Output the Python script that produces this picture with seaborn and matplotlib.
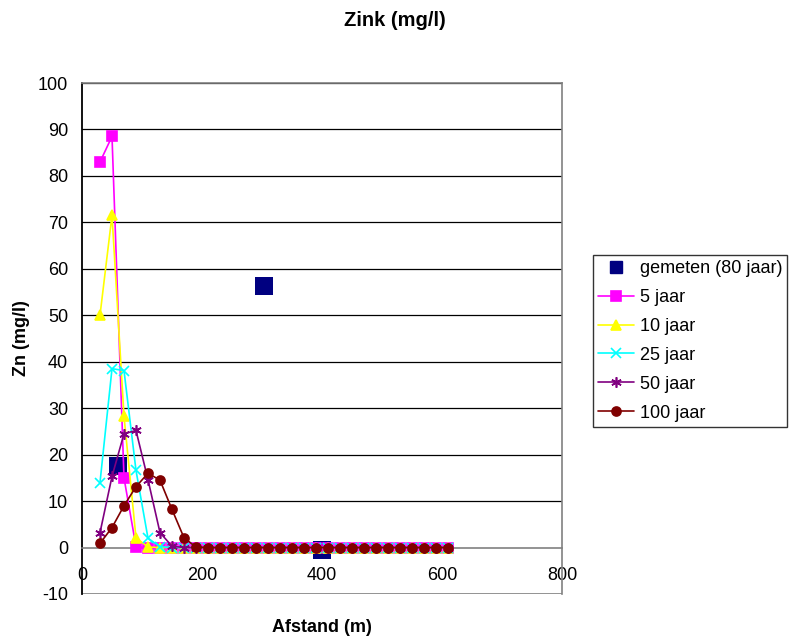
import matplotlib
matplotlib.use("Agg")
import matplotlib.pyplot as plt
from matplotlib.lines import Line2D
import seaborn as sns
import pandas as pd

# Distance from the source (m)
afstand = [30, 50, 70, 90, 110, 130, 150, 170, 190, 210, 230, 250, 270, 290, 310,
           330, 350, 370, 390, 410, 430, 450, 470, 490, 510, 530, 550, 570, 590, 610]

# Modelled zinc concentration (mg/l) after a number of years
zn_5 = [83.0, 88.5, 15.0, 0.2, 0.0, 0.0, 0.0, 0.0, 0.0, 0.0, 0.0, 0.0, 0.0, 0.0, 0.0,
        0.0, 0.0, 0.0, 0.0, 0.0, 0.0, 0.0, 0.0, 0.0, 0.0, 0.0, 0.0, 0.0, 0.0, 0.0]
zn_10 = [50.0, 71.5, 28.3, 2.1, 0.1, 0.0, 0.0, 0.0, 0.0, 0.0, 0.0, 0.0, 0.0, 0.0, 0.0,
         0.0, 0.0, 0.0, 0.0, 0.0, 0.0, 0.0, 0.0, 0.0, 0.0, 0.0, 0.0, 0.0, 0.0, 0.0]
zn_25 = [14.0, 38.5, 38.1, 16.6, 2.0, 0.2, 0.0, 0.0, 0.0, 0.0, 0.0, 0.0, 0.0, 0.0, 0.0,
         0.0, 0.0, 0.0, 0.0, 0.0, 0.0, 0.0, 0.0, 0.0, 0.0, 0.0, 0.0, 0.0, 0.0, 0.0]
zn_50 = [3.2, 15.3, 24.5, 25.2, 14.6, 3.2, 0.3, 0.0, 0.0, 0.0, 0.0, 0.0, 0.0, 0.0, 0.0,
         0.0, 0.0, 0.0, 0.0, 0.0, 0.0, 0.0, 0.0, 0.0, 0.0, 0.0, 0.0, 0.0, 0.0, 0.0]
zn_100 = [0.9, 4.3, 9.0, 13.1, 16.0, 14.5, 8.2, 2.1, 0.1, 0.0, 0.0, 0.0, 0.0, 0.0, 0.0,
          0.0, 0.0, 0.0, 0.0, 0.0, 0.0, 0.0, 0.0, 0.0, 0.0, 0.0, 0.0, 0.0, 0.0, 0.0]

# Measured values (80 years)
gemeten_x = [60, 303, 400]
gemeten_y = [17.6, 56.2, -0.5]

series_labels = ["5 jaar", "10 jaar", "25 jaar", "50 jaar", "100 jaar"]
series_values = [zn_5, zn_10, zn_25, zn_50, zn_100]
series_colors = ["#FF00FF", "#FFFF00", "#00FFFF", "#800080", "#800000"]
series_markers = ["s", "^", "x", (6, 2, 0), "o"]
series_msize = [6.5, 6.5, 7, 7.5, 6.5]

x_ticks = [0, 200, 400, 600, 800]
y_ticks = [-10, 0, 10, 20, 30, 40, 50, 60, 70, 80, 90, 100]

sns.set_style("white")
plt.rcParams["font.family"] = ["Liberation Sans", "DejaVu Sans"]
plt.rcParams["text.color"] = "black"
plt.rcParams["axes.labelcolor"] = "black"
plt.rcParams["xtick.color"] = "black"
plt.rcParams["ytick.color"] = "black"

W, H = 795, 640
fig = plt.figure(figsize=(W / 100, H / 100), dpi=100)
ax = fig.add_axes([82 / W, (H - 594) / H, (562 - 82) / W, (594 - 83) / H])

meas = pd.DataFrame({"x": gemeten_x, "y": gemeten_y})
sns.scatterplot(data=meas, x="x", y="y", marker="s", s=150, color="#000080",
                edgecolor="#000080", linewidth=0, ax=ax, zorder=3, legend=False)

for lab, vals, col, mk, ms in zip(series_labels, series_values, series_colors,
                                  series_markers, series_msize):
    df = pd.DataFrame({"x": afstand, "y": vals})
    sns.lineplot(data=df, x="x", y="y", color=col, marker=mk, markersize=ms,
                 markeredgecolor=col, markerfacecolor=col, markeredgewidth=1.2,
                 linewidth=1.2, ax=ax, zorder=4, legend=False)

ax.set_xlim(0, 800)
ax.set_ylim(-10, 100)
ax.set_xticks(x_ticks)
ax.set_yticks(y_ticks)
ax.set_xticklabels([str(v) for v in x_ticks])
ax.set_yticklabels([str(v) for v in y_ticks])

# horizontal gridlines
for yv in y_ticks:
    if yv > 0:
        ax.axhline(yv, color="black", linewidth=0.9, zorder=1)
ax.axhline(-10, color="#808080", linewidth=1.2, zorder=1)

for side in ["top", "right"]:
    ax.spines[side].set_visible(True)
    ax.spines[side].set_color("#808080")
    ax.spines[side].set_linewidth(1.2)
ax.spines["left"].set_color("black")
ax.spines["left"].set_linewidth(1.3)
ax.spines["bottom"].set_position(("data", 0))
ax.spines["bottom"].set_color("#808080")
ax.spines["bottom"].set_linewidth(1.2)

ax.tick_params(axis="x", direction="out", length=4, width=1, colors="#808080",
               labelcolor="black", labelsize=13, pad=10)
ax.tick_params(axis="y", direction="out", length=4, width=1, colors="black",
               labelcolor="black", labelsize=13, pad=6)
ax.set_xlabel("")
ax.set_ylabel("")

fig.text(395 / W, 1 - 20 / H, "Zink (mg/l)", ha="center", va="center",
         fontsize=14.5, fontweight="bold", color="black")
fig.text(322 / W, 1 - 628 / H, "Afstand (m)", ha="center", va="center",
         fontsize=13, fontweight="bold", color="black")
fig.text(22 / W, 1 - 338 / H, "Zn (mg/l)", ha="center", va="center",
         fontsize=13, fontweight="bold", rotation=90, color="black")

handles = [Line2D([], [], linestyle="none", marker="s", markersize=9,
                  color="#000080")]
for col, mk, ms in zip(series_colors, series_markers, series_msize):
    handles.append(Line2D([], [], color=col, marker=mk, markersize=ms,
                          markeredgecolor=col, markerfacecolor=col,
                          markeredgewidth=1.2, linewidth=1.2))
labels = ["gemeten (80 jaar)"] + series_labels
leg = fig.legend(handles, labels, loc="upper left",
                 bbox_to_anchor=(593 / W, 1 - 255 / H), frameon=True,
                 fancybox=False, edgecolor="black", fontsize=13,
                 handlelength=2.0, handletextpad=0.3, labelspacing=0.66,
                 borderpad=0.28, borderaxespad=0)
leg.get_frame().set_linewidth(1.0)
for t in leg.get_texts():
    t.set_color("black")

fig.savefig("out.png", dpi=100, facecolor="white")
